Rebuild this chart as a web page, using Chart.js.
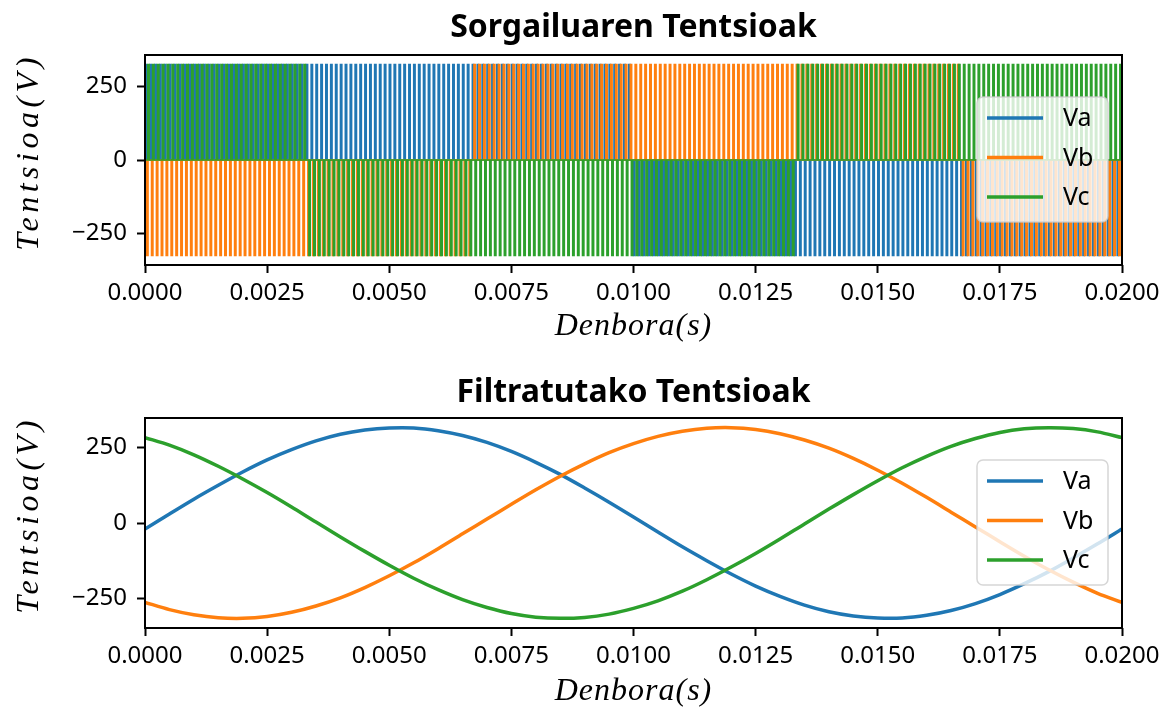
<!DOCTYPE html>
<html>
<head>
<meta charset="utf-8">
<script src="https://cdn.jsdelivr.net/npm/chart.js@4/dist/chart.umd.min.js"></script>
<style>
  html, body { margin: 0; padding: 0; background: #fff; overflow: hidden; }
  canvas { position: absolute; left: 0; }
  #top { top: 0; }
  #bottom { top: 363px; }
</style>
</head>
<body>
<canvas id="top" width="1167" height="360"></canvas>
<canvas id="bottom" width="1167" height="360"></canvas>
<script>
// --- osi ---
const timeTicks = [0, 0.0025, 0.005, 0.0075, 0.01, 0.0125, 0.015, 0.0175, 0.02];
const voltTicks = [-250, 0, 250];
const seriesNames = ['Va', 'Vb', 'Vc'];

// --- zgornji graf: izhod razsmernika (stikalni impulzi) ---
const dcPeak = 325;
const switchPeriod = 0.0001;          // 10 kHz
const sectorStart = [0, 0.00333, 0.00667, 0.01, 0.01333, 0.01667];
const sectorEnd = 0.02;
const vaSign = [1, 1, 1, -1, -1, -1];
const vbSign = [-1, -1, 1, 1, 1, -1];
const vcSign = [1, -1, -1, -1, 1, 1];
const pulseDuty = [0.3, 0.3, 0.3];
const pulseShift = [0, 0.33, 0.55];

// --- spodnji graf: filtrirane napetosti ---
const sampleTime = [0, 0.0005, 0.001, 0.0015, 0.002, 0.0025, 0.003, 0.0035, 0.004, 0.0045,
  0.005, 0.0055, 0.006, 0.0065, 0.007, 0.0075, 0.008, 0.0085, 0.009, 0.0095,
  0.01, 0.0105, 0.011, 0.0115, 0.012, 0.0125, 0.013, 0.0135, 0.014, 0.0145,
  0.015, 0.0155, 0.016, 0.0165, 0.017, 0.0175, 0.018, 0.0185, 0.019, 0.0195, 0.02];
const vaFiltered = [-20, 30, 79, 125, 169, 209, 243, 272, 294, 308,
  315, 315, 306, 290, 267, 237, 201, 161, 116, 69,
  20, -30, -79, -125, -169, -209, -243, -272, -294, -308,
  -315, -315, -306, -290, -267, -237, -201, -161, -116, -69, -20];
const vbFiltered = [-263, -287, -304, -314, -316, -310, -296, -275, -248, -214,
  -175, -132, -85, -36, 13, 62, 110, 155, 196, 233,
  263, 287, 304, 314, 316, 310, 296, 275, 248, 214,
  175, 132, 85, 36, -13, -62, -110, -155, -196, -233, -263];
const vcFiltered = [283, 258, 226, 188, 146, 101, 53, 3, -46, -94,
  -140, -183, -221, -254, -280, -300, -312, -316, -313, -302,
  -283, -258, -226, -188, -146, -101, -53, -3, 46, 94,
  140, 183, 221, 254, 280, 300, 312, 316, 313, 302, 283];

const colors = ['#1f77b4', '#ff7f0e', '#2ca02c'];
const tickFont = { family: "'Noto Sans', sans-serif", size: 24 };

function sectorOf(t) {
    let s = 0;
    for (let i = 0; i < sectorStart.length; i++) if (t >= sectorStart[i]) s = i;
    return s;
}

// impulzi -> tocke za Chart.js
function pulsePoints(signs, idx) {
    const pts = [{ x: 0, y: 0 }];
    const n = Math.round(sectorEnd / switchPeriod);
    for (let k = 0; k < n; k++) {
        const on = k * switchPeriod + pulseShift[idx] * switchPeriod;
        const off = on + pulseDuty[idx] * switchPeriod;
        const v = signs[sectorOf(on)] * dcPeak;
        pts.push({ x: on, y: 0 }, { x: on, y: v }, { x: off, y: v }, { x: off, y: 0 });
    }
    pts.push({ x: sectorEnd, y: 0 });
    return pts;
}

// okvir okoli grafa
const framePlugin = {
    id: 'frame',
    afterDatasetsDraw(chart) {
        const { ctx, chartArea: a } = chart;
        ctx.save();
        ctx.strokeStyle = '#000';
        ctx.lineWidth = 2;
        ctx.strokeRect(a.left, a.top, a.right - a.left, a.bottom - a.top);
        ctx.restore();
    }
};

// naslovi osi (matematicni kurziv)
const axisTitles = {
    id: 'axisTitles',
    afterDraw(chart, args, opts) {
        const { ctx, chartArea: a } = chart;
        ctx.save();
        ctx.font = "italic 32px 'Liberation Serif', serif";
        ctx.fillStyle = '#000';
        ctx.textAlign = 'center';
        ctx.textBaseline = 'middle';
        ctx.letterSpacing = '1px';
        ctx.fillText('Denbora(s)', (a.left + a.right) / 2, opts.xY);
        ctx.translate(30, (a.top + a.bottom) / 2 - 8);
        ctx.rotate(-Math.PI / 2);
        ctx.letterSpacing = '4.5px';
        ctx.fillText('Tentsioa(V)', 0, 0);
        ctx.restore();
    }
};

// legenda v desnem delu grafa
const boxLegend = {
    id: 'boxLegend',
    afterDraw(chart) {
        const { ctx, chartArea: a } = chart;
        const x0 = a.right - 145, y0 = a.top + 42, w = 131, h = 125, r = 6;
        ctx.save();
        ctx.beginPath();
        ctx.roundRect(x0, y0, w, h, r);
        ctx.fillStyle = 'rgba(255,255,255,0.8)';
        ctx.fill();
        ctx.strokeStyle = 'rgba(204,204,204,0.8)';
        ctx.lineWidth = 1.5;
        ctx.stroke();
        ctx.font = "25px 'Noto Sans', sans-serif";
        ctx.textBaseline = 'middle';
        ctx.fillStyle = '#000';
        chart.data.datasets.forEach((ds, i) => {
            const y = y0 + 21 + i * 39.5;
            ctx.beginPath();
            ctx.moveTo(x0 + 10, y);
            ctx.lineTo(x0 + 66, y);
            ctx.strokeStyle = ds.borderColor;
            ctx.lineWidth = 3.5;
            ctx.stroke();
            ctx.fillText(ds.label, x0 + 86, y + 1);
        });
        ctx.restore();
    }
};

function makeChart(id, title, datasets, yLim, titlePad, xTitleY, lineW, smooth) {
    return new Chart(document.getElementById(id), {
        type: 'line',
        data: {
            datasets: datasets.map((d, i) => ({
                label: seriesNames[i],
                data: d,
                borderColor: colors[i],
                borderWidth: lineW,
                pointRadius: 0,
                tension: smooth,
                order: 3 - i
            }))
        },
        options: {
            responsive: false,
            animation: false,
            devicePixelRatio: 1,
            parsing: false,
            layout: { padding: { left: 0, right: 45, top: 0, bottom: 0 } },
            plugins: {
                legend: { display: false },
                tooltip: { enabled: false },
                axisTitles: { xY: xTitleY },
                title: {
                    display: true,
                    fullSize: false,
                    text: title,
                    color: '#000',
                    font: { family: "'Noto Sans', sans-serif", size: 32, weight: 'bold', lineHeight: 1.2 },
                    padding: titlePad
                }
            },
            scales: {
                x: {
                    type: 'linear',
                    min: 0, max: 0.02,
                    afterFit: s => { s.height = 95; },
                    afterBuildTicks: s => { s.ticks = timeTicks.map(v => ({ value: v })); },
                    grid: { drawOnChartArea: false, tickLength: 8, tickWidth: 2, tickColor: '#000' },
                    border: { display: false },
                    ticks: {
                        color: '#000', font: tickFont, padding: 6, maxRotation: 0, autoSkip: false,
                        callback: v => v.toFixed(4)
                    }
                },
                y: {
                    min: -yLim, max: yLim,
                    afterFit: s => { s.width = 145; },
                    afterBuildTicks: s => { s.ticks = voltTicks.map(v => ({ value: v })); },
                    grid: { drawOnChartArea: false, tickLength: 8, tickWidth: 2, tickColor: '#000' },
                    border: { display: false },
                    ticks: {
                        color: '#000', font: tickFont, padding: 10,
                        callback: v => String(v).replace('-', '\u2212')
                    }
                }
            }
        },
        plugins: [framePlugin, axisTitles, boxLegend]
    });
}

const pulseData = [pulsePoints(vaSign, 0), pulsePoints(vbSign, 1), pulsePoints(vcSign, 2)];
const filtData = [vaFiltered, vbFiltered, vcFiltered].map(arr => arr.map((v, i) => ({ x: sampleTime[i], y: v })));

makeChart('top', 'Sorgailuaren Tentsioak', pulseData, 357.5, { top: 8.8, bottom: 7.8 }, 327, 1.5, 0);
makeChart('bottom', 'Filtratutako Tentsioak', filtData, 348, { top: 10.8, bottom: 5.8 }, 329, 3.5, 0.3);
</script>
</body>
</html>
